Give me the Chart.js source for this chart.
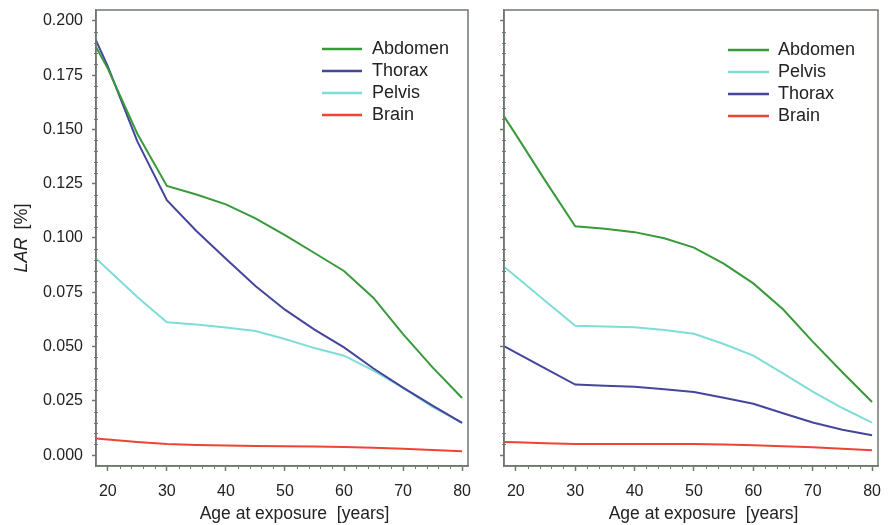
<!DOCTYPE html>
<html>
<head>
<meta charset="utf-8">
<script src="https://cdn.jsdelivr.net/npm/chart.js@4.4.1/dist/chart.umd.min.js"></script>
<style>
  html, body { margin: 0; padding: 0; background: #fff; }
  #wrap { position: relative; width: 888px; height: 525px; }
  .panel { position: absolute; top: 0; height: 525px; }
  #leftPanel { left: 0; width: 480px; }
  #rightPanel { left: 480px; width: 408px; }
</style>
</head>
<body>
<div id="wrap">
  <div class="panel" id="leftPanel"><canvas id="leftChart"></canvas></div>
  <div class="panel" id="rightPanel"><canvas id="rightChart"></canvas></div>
</div>
<script>
const ages = [18, 20, 25, 30, 35, 40, 45, 50, 55, 60, 65, 70, 75, 80];

// left panel, LAR in %
const leftAbdomen = [0.188, 0.178, 0.148, 0.124, 0.120, 0.1155, 0.109, 0.1013, 0.0931, 0.0848, 0.0724, 0.0557, 0.0404, 0.0263];
const leftThorax  = [0.191, 0.179, 0.1445, 0.1174, 0.1032, 0.0904, 0.0779, 0.0670, 0.0578, 0.0496, 0.0399, 0.0311, 0.0228, 0.0149];
const leftPelvis  = [0.0906, 0.0855, 0.0728, 0.0612, 0.0602, 0.0588, 0.0572, 0.0535, 0.0493, 0.0458, 0.0389, 0.0310, 0.0222, 0.0149];
const leftBrain   = [0.0077, 0.0072, 0.0061, 0.0051, 0.0047, 0.0044, 0.0042, 0.0041, 0.0040, 0.0038, 0.0034, 0.0029, 0.0024, 0.0018];

// right panel
const rightAbdomen = [0.156, 0.1476, 0.1262, 0.1054, 0.1043, 0.1027, 0.0999, 0.0956, 0.0882, 0.0791, 0.0672, 0.0523, 0.0382, 0.0245];
const rightPelvis  = [0.0868, 0.0823, 0.0709, 0.0596, 0.0593, 0.0589, 0.0576, 0.0559, 0.0512, 0.0458, 0.0377, 0.0293, 0.0217, 0.0150];
const rightThorax  = [0.0502, 0.0472, 0.0398, 0.0325, 0.0320, 0.0315, 0.0304, 0.0291, 0.0264, 0.0237, 0.0193, 0.0150, 0.0117, 0.0092];
const rightBrain   = [0.0061, 0.0059, 0.0055, 0.0051, 0.0051, 0.0051, 0.0051, 0.0051, 0.0049, 0.0045, 0.0041, 0.0036, 0.0030, 0.0023];

const yTickLabels = ['0.000', '0.025', '0.050', '0.075', '0.100', '0.125', '0.150', '0.175', '0.200'];
const xTickLabels = ['20', '30', '40', '50', '60', '70', '80'];

const colors = { Abdomen: '#389a3a', Thorax: '#45459c', Pelvis: '#80dcd6', Brain: '#ee4433' };
const axisColor = '#6f776f';
const textColor = '#222';
const fontFamily = "'Liberation Sans', Arial, sans-serif";

// minor tick positions (every 0.005 on y, every 2 years on x)
const yMinorTicks = [];
for (let i = 1; i < 40; i++) if (i % 5 !== 0) yMinorTicks.push(i * 0.005);
const xMinorTicks = [];
for (let a = 22; a < 80; a += 2) if (a % 10 !== 0) xMinorTicks.push(a);

const series = (label, values) => ({
  label,
  data: ages.map((a, i) => ({ x: a, y: values[i] })),
  borderColor: colors[label],
  borderWidth: 2,
  pointRadius: 0,
  tension: 0,
  fill: false
});

// box around the plot area plus the small unlabeled ticks
const frameAndMinorTicks = {
  id: 'frameAndMinorTicks',
  afterDraw(chart) {
    const { ctx, chartArea: a, scales: { x, y } } = chart;
    ctx.save();
    ctx.strokeStyle = axisColor;
    ctx.lineWidth = 1.5;
    ctx.strokeRect(a.left, a.top, a.right - a.left, a.bottom - a.top);
    ctx.lineWidth = 1;
    ctx.beginPath();
    yMinorTicks.forEach(v => {
      const py = Math.round(y.getPixelForValue(v)) + 0.5;
      ctx.moveTo(a.left - 2, py);
      ctx.lineTo(a.left + 2, py);
    });
    xMinorTicks.forEach(v => {
      const px = Math.round(x.getPixelForValue(v)) + 0.5;
      ctx.moveTo(px, a.bottom);
      ctx.lineTo(px, a.bottom + 3);
    });
    ctx.stroke();
    ctx.restore();
  }
};

const insideLegend = {
  id: 'insideLegend',
  afterDatasetsDraw(chart, args, opts) {
    const { ctx } = chart;
    ctx.save();
    ctx.font = `18px ${fontFamily}`;
    ctx.textBaseline = 'middle';
    chart.data.datasets.forEach((ds, i) => {
      const yy = opts.y + i * opts.rowHeight;
      ctx.strokeStyle = ds.borderColor;
      ctx.lineWidth = 2.5;
      ctx.beginPath();
      ctx.moveTo(opts.x, yy);
      ctx.lineTo(opts.x + opts.lineLength, yy);
      ctx.stroke();
      ctx.fillStyle = textColor;
      ctx.fillText(ds.label, opts.x + opts.lineLength + opts.gap, yy);
    });
    ctx.restore();
  }
};

const axisTitles = {
  id: 'axisTitles',
  afterDraw(chart, args, opts) {
    const { ctx, chartArea: a } = chart;
    ctx.save();
    ctx.fillStyle = textColor;
    ctx.textBaseline = 'middle';
    // x title
    ctx.font = `17.5px ${fontFamily}`;
    ctx.textAlign = 'center';
    ctx.fillText('Age at exposure  [years]', (a.left + a.right) / 2 + opts.xShift, opts.xTitleY);
    // y title, only on the left panel
    if (opts.yTitle) {
      ctx.translate(opts.yTitleX, (a.top + a.bottom) / 2);
      ctx.rotate(-Math.PI / 2);
      ctx.textAlign = 'left';
      ctx.font = `italic 18px ${fontFamily}`;
      const w1 = ctx.measureText('LAR').width;
      ctx.font = `18px ${fontFamily}`;
      const w2 = ctx.measureText('[%]').width;
      const gap = 8;
      const start = -(w1 + gap + w2) / 2;
      ctx.font = `italic 18px ${fontFamily}`;
      ctx.fillText('LAR', start, 0);
      ctx.font = `18px ${fontFamily}`;
      ctx.fillText('[%]', start + w1 + gap, 0);
    }
    ctx.restore();
  }
};

function makeChart(canvasId, datasets, opts) {
  return new Chart(document.getElementById(canvasId), {
    type: 'line',
    data: { datasets },
    options: {
      responsive: true,
      maintainAspectRatio: false,
      animation: false,
      layout: { padding: { top: 10, right: opts.rightPad, bottom: 0, left: 0 } },
      plugins: {
        legend: { display: false },
        tooltip: { enabled: false },
        insideLegend: opts.legend,
        axisTitles: { xShift: 12.5, xTitleY: 514, yTitle: opts.yTitle, yTitleX: 22 }
      },
      scales: {
        x: {
          type: 'linear',
          min: 18, max: 81,
          afterFit: s => { s.height = 59; s.paddingLeft = 0; s.paddingRight = 0; },
          border: { color: axisColor, width: 1.5 },
          grid: { drawOnChartArea: false, tickLength: 5, tickColor: axisColor, tickWidth: 1.5 },
          ticks: {
            stepSize: 10,
            includeBounds: false,
            autoSkip: false,
            maxRotation: 0,
            padding: 11,
            color: textColor,
            font: { family: fontFamily, size: 16 },
            callback: v => { const s = String(v); return xTickLabels.includes(s) ? s : null; }
          }
        },
        y: {
          min: -0.005, max: 0.205,
          afterFit: s => { s.width = opts.yWidth; s.paddingTop = 0; s.paddingBottom = 0; },
          border: { color: axisColor, width: 1.5 },
          grid: { drawOnChartArea: false, tickLength: 4, tickColor: axisColor, tickWidth: 1.5 },
          ticks: {
            stepSize: 0.025,
            includeBounds: false,
            autoSkip: false,
            padding: 9,
            display: opts.yLabels,
            color: textColor,
            font: { family: fontFamily, size: 16 },
            callback: v => {
              const i = Math.round(v / 0.025);
              if (Math.abs(v - i * 0.025) > 1e-9) return null;
              return yTickLabels[i] ?? null;
            }
          }
        }
      }
    },
    plugins: [frameAndMinorTicks, insideLegend, axisTitles]
  });
}

makeChart('leftChart', [
  series('Abdomen', leftAbdomen),
  series('Thorax', leftThorax),
  series('Pelvis', leftPelvis),
  series('Brain', leftBrain)
], { rightPad: 12, yWidth: 96, yLabels: true, yTitle: true,
     legend: { x: 322, y: 49, rowHeight: 22, lineLength: 40, gap: 10 } });

makeChart('rightChart', [
  series('Abdomen', rightAbdomen),
  series('Pelvis', rightPelvis),
  series('Thorax', rightThorax),
  series('Brain', rightBrain)
], { rightPad: 10, yWidth: 24, yLabels: false, yTitle: false,
     legend: { x: 248, y: 50, rowHeight: 22, lineLength: 41, gap: 9 } });
</script>
</body>
</html>
